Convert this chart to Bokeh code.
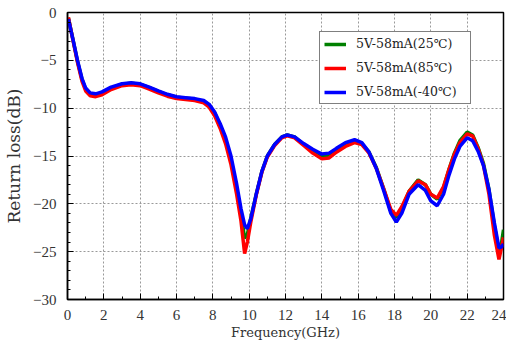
from bokeh.plotting import figure
from bokeh.models import Legend, LegendItem, FixedTicker
from bokeh.embed import file_html
from bokeh.resources import INLINE

freq = [0.05, 0.3, 0.55, 0.8, 1.0, 1.25, 1.55, 1.9, 2.4, 3.0, 3.5, 4.0, 4.5, 5.0, 5.5,
        6.0, 6.5, 7.0, 7.5, 7.8, 8.1, 8.4, 8.7, 9.0, 9.3, 9.55, 9.75, 9.9, 10.1, 10.4,
        10.7, 11.0, 11.4, 11.8, 12.1, 12.5, 13.0, 13.5, 14.0, 14.4, 14.8, 15.3, 15.8,
        16.2, 16.6, 17.0, 17.4, 17.8, 18.1, 18.4, 18.8, 19.3, 19.7, 20.0, 20.35, 20.7,
        21.0, 21.3, 21.6, 22.0, 22.3, 22.6, 22.9, 23.2, 23.5, 23.75, 23.9, 24.0]

rl_25 = [-0.6, -2.8, -5.1, -7.0, -8.0, -8.5, -8.6, -8.4, -7.9, -7.5, -7.4, -7.5, -7.85,
         -8.25, -8.6, -8.85, -8.95, -9.05, -9.3, -9.7, -10.5, -11.8, -13.3, -15.4, -18.3,
         -21.0, -23.6, -23.2, -21.4, -18.9, -16.6, -15.0, -13.8, -13.0, -12.8, -13.0,
         -13.8, -14.5, -15.0, -14.9, -14.4, -13.8, -13.5, -13.7, -14.6, -16.2, -18.4,
         -20.8, -21.4, -20.5, -18.7, -17.5, -18.0, -19.0, -19.5, -18.3, -16.4, -14.7,
         -13.4, -12.5, -12.8, -14.1, -15.8, -18.5, -22.3, -25.0, -24.0, -22.7]

rl_85 = [-0.5, -2.9, -5.2, -7.2, -8.2, -8.7, -8.8, -8.6, -8.05, -7.65, -7.55, -7.65, -8.0,
         -8.4, -8.75, -9.0, -9.1, -9.2, -9.45, -9.9, -10.8, -12.1, -13.7, -15.9, -18.9,
         -21.8, -25.2, -24.0, -21.8, -19.0, -16.7, -15.1, -13.9, -13.1, -12.9, -13.1,
         -13.9, -14.7, -15.3, -15.2, -14.6, -14.0, -13.6, -13.8, -14.7, -16.3, -18.4,
         -20.6, -21.2, -20.3, -18.7, -17.6, -18.0, -19.0, -19.4, -18.2, -16.4, -14.8,
         -13.6, -12.7, -12.9, -14.2, -16.0, -19.0, -23.3, -25.8, -24.5, -23.5]

rl_m40 = [-0.7, -2.8, -5.0, -6.9, -7.9, -8.4, -8.5, -8.3, -7.8, -7.45, -7.35, -7.45, -7.8,
          -8.2, -8.55, -8.8, -8.9, -9.0, -9.2, -9.6, -10.4, -11.6, -13.0, -15.0, -17.8,
          -20.5, -22.2, -22.6, -21.5, -18.9, -16.6, -15.0, -13.8, -13.0, -12.8, -13.0,
          -13.7, -14.3, -14.8, -14.7, -14.2, -13.6, -13.3, -13.6, -14.6, -16.3, -18.6,
          -21.0, -21.9, -21.0, -19.0, -18.0, -18.6, -19.7, -20.2, -19.0, -17.0, -15.3,
          -14.0, -13.1, -13.4, -14.5, -16.0, -18.5, -22.0, -24.6, -24.5, -24.2]

labels = ["5V-58mA(25℃)", "5V-58mA(85℃)", "5V-58mA(-40℃)"]
colors = ["#008000", "#ff0000", "#0000ff"]
x_ticks = list(range(0, 25, 2))
y_ticks = list(range(-30, 1, 5))

p = figure(width=506, height=344, output_backend="svg", toolbar_location=None,
           x_range=(0, 24), y_range=(-30, 0),
           min_border_left=67, min_border_right=3, min_border_top=12, min_border_bottom=45)
p.background_fill_color = "white"
p.outline_line_color = "black"
p.outline_line_width = 1.5

renderers = []
for ys, c in zip([rl_25, rl_85, rl_m40], colors):
    r = p.line(freq, ys, line_color=c, line_width=3.5)
    renderers.append(r)

legend = Legend(items=[LegendItem(label=l, renderers=[r]) for l, r in zip(labels, renderers)],
                location=(252, 195))
legend.border_line_color = "black"
legend.border_line_width = 1.2
legend.background_fill_alpha = 1.0
legend.padding = 4
legend.spacing = 9
legend.glyph_width = 22
legend.glyph_height = 14
legend.label_height = 14
legend.label_standoff = 10
legend.label_width = 110
legend.margin = 0
legend.label_text_font = "DejaVu Serif"
legend.label_text_font_size = "12.5px"
legend.label_text_color = "#222222"
p.add_layout(legend)

p.xaxis.ticker = FixedTicker(ticks=x_ticks, minor_ticks=list(range(0, 25)))
p.yaxis.ticker = FixedTicker(ticks=y_ticks, minor_ticks=list(range(-30, 1)))

for ax in [p.xaxis[0], p.yaxis[0]]:
    ax.axis_line_color = "black"
    ax.axis_line_width = 1.5
    ax.major_tick_in = 6
    ax.major_tick_out = 0
    ax.minor_tick_in = 3
    ax.minor_tick_out = 0
    ax.major_tick_line_color = "black"
    ax.minor_tick_line_color = "black"
    ax.major_label_text_font = "Liberation Serif"
    ax.major_label_text_font_size = "15px"
    ax.major_label_text_color = "#333333"
    ax.axis_label_text_font = "DejaVu Serif"
    ax.axis_label_text_font_style = "normal"
    ax.axis_label_text_color = "#333333"

p.xaxis.axis_label = "Frequency(GHz)"
p.xaxis.axis_label_text_font_size = "13px"
p.xaxis.major_label_standoff = 10
p.xaxis.axis_label_standoff = 2
p.yaxis.axis_label = "Return loss(dB)"
p.yaxis.axis_label_text_font_size = "17px"
p.yaxis.major_label_standoff = 11
p.yaxis.axis_label_standoff = 6

p.xgrid.ticker = FixedTicker(ticks=x_ticks)
p.ygrid.ticker = FixedTicker(ticks=y_ticks)
for g in [p.xgrid[0], p.ygrid[0]]:
    g.grid_line_color = "#999999"
    g.grid_line_dash = "2 2"
    g.grid_line_width = 1

open("out.html", "w").write(file_html(p, INLINE))
